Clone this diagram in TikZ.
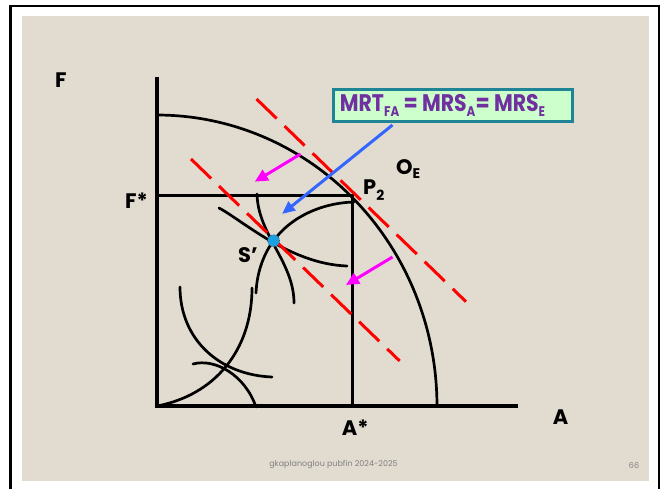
\documentclass[tikz,border=0pt]{standalone}
\usepackage{fontspec}
\setmainfont{Poppins}
\usetikzlibrary{arrows.meta}
\definecolor{beige}{RGB}{226,220,208}
\definecolor{eqpurple}{RGB}{112,48,160}
\definecolor{eqteal}{RGB}{31,133,150}
\definecolor{eqfill}{RGB}{204,255,204}
\definecolor{bluearr}{RGB}{51,102,255}
\definecolor{dotcyan}{RGB}{27,161,226}
\definecolor{footgray}{RGB}{128,128,128}
\definecolor{shiftmag}{RGB}{255,0,255}
\newcommand\lowsub[2]{\raisebox{#1}{\fontsize{14pt}{14pt}\selectfont #2}}
\begin{document}
\begin{tikzpicture}[x=1pt,y=-1pt,
  lbl/.style={font=\fontsize{21pt}{21pt}\selectfont\bfseries, inner sep=0pt},
  axisline/.style={line width=3.2pt},
  curve/.style={line width=2.7pt, line cap=round},
  budget/.style={red, line width=3pt, dash pattern=on 28pt off 11pt},
  shiftarr/.style={shiftmag, line width=3pt, -{Triangle[length=13pt,width=12pt]}},
  bluearrow/.style={bluearr, line width=3pt, -{Triangle[length=13pt,width=11pt]}},
  eqbox/.style={draw=eqteal, line width=3pt, fill=eqfill, text=eqpurple,
    font=\fontsize{24pt}{24pt}\selectfont\bfseries, minimum width=239pt,
    minimum height=32pt, inner sep=0pt},
  foot/.style={font=\fontsize{8pt}{8pt}\selectfont, text=footgray, inner sep=0pt}
]
\useasboundingbox (0,0) rectangle (667,489);
\fill[white] (0,0) rectangle (667,489);
% frame
\draw[line width=2.5pt] (10.5,489) -- (10.5,6.2) -- (659,6.2) -- (659,489);
\fill[beige] (22,16) rectangle (649,480.7);

% coordinates
\coordinate (O) at (157,406);
\coordinate (Ytop) at (157,77);
\coordinate (Xend) at (518,406);
\coordinate (Fstar) at (157,195.7);
\coordinate (P2) at (352.3,195.7);
\coordinate (Astar) at (352.3,406);
\coordinate (S) at (273.6,240.7);

% production possibility frontier
\draw[curve, line cap=butt] plot[domain=0:90, samples=80] ({157+280*cos(\x)}, {406-291*sin(\x)});

% axes and guide lines
\draw[axisline] (Ytop) -- (O) -- (Xend);
\draw[line width=2.8pt] (Fstar) -- (P2) -- (Astar);

% curves in the box
\draw[curve] (219,208) .. controls (242,220) and (290,264) .. (347,266);
\draw[curve] (257,194) .. controls (258,235) and (294,262) .. (294,303);
\draw[curve] (O) .. controls (215,395) and (252,350) .. (252,288);
\draw[curve] (256,293) .. controls (257,270) and (265,252) .. (S);
\draw[curve] (S) .. controls (290,218) and (320,203) .. (354,202);
\draw[curve] (180,287) .. controls (180,340) and (220,375) .. (272,377);
\draw[curve] (193,364) .. controls (215,358) and (245,375) .. (256,407);

% price lines
\coordinate (r1a) at (256.5,99);
\coordinate (r1b) at (466,301.7);
\coordinate (r2a) at (191,159);
\coordinate (r2b) at (399.7,361);
\draw[budget] (r1a) -- (r1b);
\draw[budget] (r2a) -- (r2b);

% shift arrows
\coordinate (m1a) at (300.6,154);
\coordinate (m1b) at (254.8,181.7);
\coordinate (m2a) at (392.5,257);
\coordinate (m2b) at (346,285);
\draw[shiftarr] (m1a) -- (m1b);
\draw[shiftarr] (m2a) -- (m2b);

% equation box and arrow
\node[eqbox] (eq) at (452.5,105.5) {\scalebox{0.85}[1]{MRT\lowsub{-5pt}{FA} = MRS\lowsub{-5pt}{A}= MRS\lowsub{-5pt}{E}}\kern20pt\relax};
\coordinate (bstart) at (392.5,125);
\coordinate (bend) at (282,214);
\draw[bluearrow] (bstart) -- (bend);

% tangency point
\fill[dotcyan] (S) circle[radius=6pt];
\node[circle, draw=black!70, densely dotted, line width=0.6pt, minimum size=12pt, inner sep=0pt] (Sdot) at (S) {};

% labels
\node[lbl, anchor=base west] (lF) at (55,87.3) {F};
\node[lbl, anchor=base west] (lFs) at (125,208.3) {F*};
\node[lbl, anchor=base west] (lA) at (552.7,424) {A};
\node[lbl, anchor=base west] (lAs) at (341.7,435) {A*};
\node[lbl, anchor=base west] (lS) at (238,262.7) {S'};
\node[lbl, anchor=base west] (lP) at (363,195) {P\lowsub{-6pt}{2}};
\node[lbl, anchor=base west] (lO) at (396,175) {O\lowsub{-4pt}{E}};

% footer
\node[foot] (ft) at (333.5,465) {gkaplanoglou pubfin 2024-2025};
\node[foot] (pg) at (634,466) {66};
\end{tikzpicture}
\end{document}
